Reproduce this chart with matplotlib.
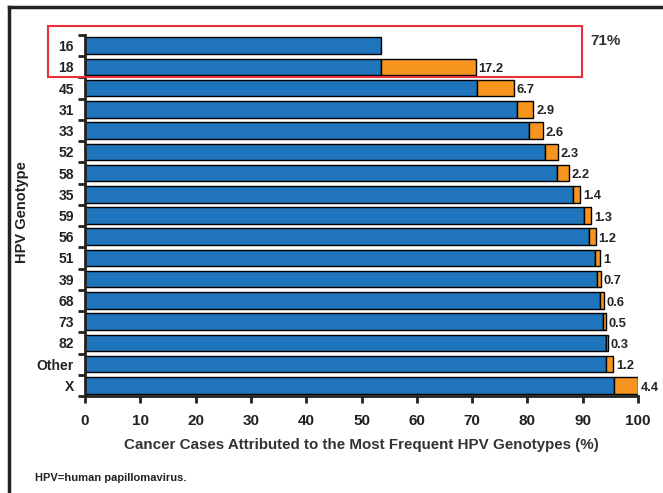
import matplotlib
matplotlib.use("Agg")
import matplotlib.pyplot as plt
from matplotlib.patches import Rectangle
from matplotlib.lines import Line2D
import numpy as np

genotypes = ["16", "18", "45", "31", "33", "52", "58", "35", "59", "56", "51", "39", "68", "73", "82", "Other", "X"]
# cumulative share before adding this genotype (blue part), as drawn
blue_part = [53.5, 53.5, 70.8, 78.2, 80.2, 83.2, 85.3, 88.2, 90.2, 91.2, 92.2, 92.6, 93.2, 93.7, 94.3, 94.3, 95.6]
# added share of this genotype (orange part); 16 has none
orange_part = [0.0, 17.2, 6.7, 2.9, 2.6, 2.3, 2.2, 1.4, 1.3, 1.2, 1.0, 0.7, 0.6, 0.5, 0.3, 1.2, 4.4]
value_labels = ["", "17.2", "6.7", "2.9", "2.6", "2.3", "2.2", "1.4", "1.3", "1.2", "1", "0.7", "0.6", "0.5", "0.3", "1.2", "4.4"]
xticks = [0, 10, 20, 30, 40, 50, 60, 70, 80, 90, 100]

plt.rcParams['font.family'] = ['Liberation Sans', 'DejaVu Sans']
plt.rcParams['font.weight'] = 'bold'
txt = '#222222'
blue = '#1F74BB'
orange = '#F7941D'

fig = plt.figure(figsize=(6.63, 4.93), dpi=100)
ax = fig.add_axes([85/663, 1-396/493, (638-85)/663, (396-35)/493])

blue_arr = np.array(blue_part)
orange_arr = np.array(orange_part)
y = np.arange(len(genotypes))
h = 0.78

ax.barh(y, blue_arr, height=h, color=blue, edgecolor='black', linewidth=1.0, zorder=2)
has_orange = orange_arr > 0
ax.barh(y[has_orange], orange_arr[has_orange], left=blue_arr[has_orange], height=h,
        color=orange, edgecolor='black', linewidth=1.0, zorder=2)

for i in range(len(genotypes)):
    if value_labels[i]:
        ax.text(blue_arr[i] + orange_arr[i] + 0.5, y[i] + 0.1, value_labels[i], va='center', ha='left',
                fontsize=9.3, fontweight='bold', color=txt)

ax.set_xlim(0, 100)
ax.set_ylim(len(genotypes) - 0.5, -0.5)
ax.set_yticks(y)
ax.set_yticklabels(genotypes, fontsize=10, fontweight='bold', color=txt)
ax.set_yticks(np.arange(len(genotypes) + 1) - 0.5, minor=True)
ax.tick_params(axis='y', which='major', length=0, pad=8)
ax.tick_params(axis='y', which='minor', length=5, width=2, color='#222222', direction='out')
ax.set_xticks(xticks)
ax.set_xticklabels([str(v) for v in xticks], fontsize=11, fontweight='bold', color=txt)
ax.tick_params(axis='x', length=5, width=2, color='#222222', pad=8)
for s in ['top', 'right']:
    ax.spines[s].set_visible(False)
for s in ['left', 'bottom']:
    ax.spines[s].set_linewidth(2)
    ax.spines[s].set_color('#222222')

ax.set_xlabel("Cancer Cases Attributed to the Most Frequent HPV Genotypes (%)", fontsize=10.9,
              fontweight='bold', color='#333333', labelpad=7)
fig.text(22/663, 1-212/493, "HPV Genotype", rotation=90, ha='center', va='center',
         fontsize=10.5, fontweight='bold', color=txt)

# red highlight box
fig.add_artist(Rectangle((48/663, 1-77/493), (582-48)/663, (77-26)/493, transform=fig.transFigure,
                         fill=False, edgecolor='#E8303A', linewidth=1.5, zorder=5))
fig.text(590/663, 1-41/493, "71%", ha='left', va='center', fontsize=11, fontweight='bold', color='#333333')

fig.text(35/663, 1-478/493, "HPV=human papillomavirus.", ha='left', va='center', fontsize=8,
         fontweight='bold', color=txt)

# outer border
fig.add_artist(Line2D([9/663, 1], [1-7/493, 1-7/493], transform=fig.transFigure, color='#222222', linewidth=2.5))
fig.add_artist(Line2D([9/663, 9/663], [0, 1-7/493], transform=fig.transFigure, color='#222222', linewidth=2.5))

fig.savefig("out.png", dpi=100)
